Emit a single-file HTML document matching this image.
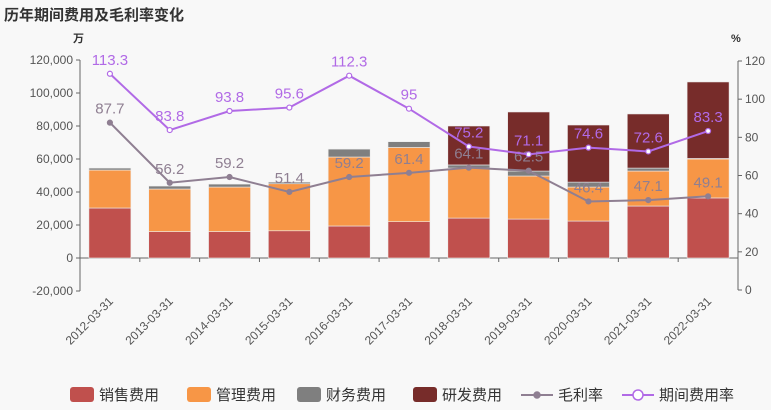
<!DOCTYPE html>
<html><head><meta charset="utf-8"><style>
html,body{margin:0;padding:0;background:#f8f8f8;}
svg{display:block;font-family:"Liberation Sans","Noto Sans CJK SC",sans-serif;}
</style></head><body>
<svg id="chart" width="771" height="410" xmlns="http://www.w3.org/2000/svg">
<rect width="771" height="410" fill="#f8f8f8"/>
<text x="4" y="20" font-size="15" font-weight="bold" fill="#333">历年期间费用及毛利率变化</text>
<g id="axes"></g><g id="bars"></g><g id="lines"></g><g id="legend"></g>
</svg>
<script>
const categories=["2012-03-31","2013-03-31","2014-03-31","2015-03-31","2016-03-31","2017-03-31","2018-03-31","2019-03-31","2020-03-31","2021-03-31","2022-03-31"];
const sales=[30300,16000,16000,16500,19400,22000,24200,23600,22400,31500,36400];
const admin=[23000,25800,27000,28500,41800,45000,30300,26100,20600,21200,23600];
const finance=[1200,1800,1800,1000,4800,3500,1900,3000,3000,1800,300];
const rnd=[0,0,0,0,0,0,23600,35800,34600,32800,46400];
const grossMargin=[87.7,56.2,59.2,51.4,59.2,61.4,64.1,62.5,46.4,47.1,49.1];
const expenseRate=[113.3,83.8,93.8,95.6,112.3,95,75.2,71.1,74.6,72.6,83.3];
const leftTicks=[-20000,0,20000,40000,60000,80000,100000,120000];
const rightTicks=[0,20,40,60,80,100,120];

const NS="http://www.w3.org/2000/svg";
const X0=80,X1=738,bw=(X1-X0)/categories.length,barW=42;
const yL=v=>258-v/20000*33;
const yR=v=>290-v*229/120;
const xc=i=>X0+bw*(i+0.5);
function mk(tag,attrs,parent,text){const e=document.createElementNS(NS,tag);for(const k in attrs)e.setAttribute(k,attrs[k]);if(text!==undefined)e.textContent=text;parent.appendChild(e);return e;}
const axes=document.getElementById('axes'),bars=document.getElementById('bars'),lines=document.getElementById('lines'),legend=document.getElementById('legend');
let a=mk('line',{x1:X0,x2:X0,y1:yL(120000),y2:yL(-20000),stroke:'#666'},axes);


a=mk('line',{x1:X1,x2:X1,y1:yR(120),y2:yR(0),stroke:'#666'},axes);


a=mk('line',{x1:X0,x2:X1,y1:yL(0),y2:yL(0),stroke:'#666'},axes);


leftTicks.forEach(v=>{mk('line',{x1:X0-4,x2:X0,y1:yL(v),y2:yL(v),stroke:'#666'},axes);
 const t=mk('text',{x:X0-7,y:yL(v)+4,'text-anchor':'end','font-size':12,fill:'#555'},axes,v.toLocaleString('en-US'));
 
 });
rightTicks.forEach(v=>{mk('line',{x1:X1,x2:X1+4,y1:yR(v),y2:yR(v),stroke:'#666'},axes);
 const t=mk('text',{x:X1+7,y:yR(v)+4,'font-size':12,fill:'#555'},axes,String(v));
 
 });
let u=mk('text',{x:73,y:42,'font-size':11,'font-weight':'bold',fill:'#333'},axes,'万');


u=mk('text',{x:731,y:42,'font-size':11,'font-weight':'bold',fill:'#333'},axes,'%');


for(let i=1;i<categories.length;i++){mk('line',{x1:X0+bw*i,x2:X0+bw*i,y1:258,y2:262,stroke:'#666'},axes);}
categories.forEach((c,i)=>{const x=xc(i)+4,y=302;
 const t=mk('text',{x:x,y:y,'text-anchor':'end','font-size':12,fill:'#555',transform:`rotate(-45 ${x} ${y})`},axes,c);
 
 });
const series=[{d:sales,c:'#c0504d',n:'sales-bar'},{d:admin,c:'#f79646',n:'admin-bar'},{d:finance,c:'#7f7f7f',n:'finance-bar'},{d:rnd,c:'#772c2a',n:'rnd-bar'}];
categories.forEach((c,i)=>{let base=0;series.forEach(s=>{const v=s.d[i];if(v>0){
 const r=mk('rect',{x:xc(i)-barW/2,y:yL(base+v),width:barW,height:yL(base)-yL(base+v),fill:s.c,stroke:'#eee','stroke-width':0.6},bars);
 
 }
 base+=v;});});
function drawLine(data,color,name,fill){
 const p=mk('polyline',{points:data.map((v,i)=>xc(i)+','+yR(v)).join(' '),fill:'none',stroke:color,'stroke-width':2},lines);
 
 
 data.forEach((v,i)=>{const m=mk('circle',{cx:xc(i),cy:yR(v),r:2.5,fill:fill,stroke:color,'stroke-width':1.2},lines);
  
  
  const t=mk('text',{x:xc(i),y:yR(v)-9,'text-anchor':'middle','font-size':15,fill:color},lines,String(v));
  
  });
}
drawLine(grossMargin,'#8f7f92','gross-margin',"#8f7f92");
drawLine(expenseRate,'#b16ae6','expense-rate',"#fff");
const lg=[{t:'销售费用',c:'#c0504d',x:70},{t:'管理费用',c:'#f79646',x:187},{t:'财务费用',c:'#7f7f7f',x:297},{t:'研发费用',c:'#772c2a',x:413}];
lg.forEach(l=>{const g=mk('g',{},legend);
 
 
 mk('rect',{x:l.x,y:387,width:24,height:15,rx:3,fill:l.c},g);
 mk('text',{x:l.x+29,y:400,'font-size':15,fill:'#333'},g,l.t);});
[{t:'毛利率',c:'#8f7f92',x:521,f:'#8f7f92'},{t:'期间费用率',c:'#b16ae6',x:622,f:'#fff'}].forEach(l=>{const g=mk('g',{},legend);
 
 
 mk('line',{x1:l.x,x2:l.x+32,y1:395,y2:395,stroke:l.c,'stroke-width':2},g);
 mk('circle',{cx:l.x+16,cy:395,r:l.f==='#fff'?5:3,fill:l.f,stroke:l.c,'stroke-width':1.5},g);
 mk('text',{x:l.x+37,y:400,'font-size':15,fill:'#333'},g,l.t);});
</script>
</body></html>
